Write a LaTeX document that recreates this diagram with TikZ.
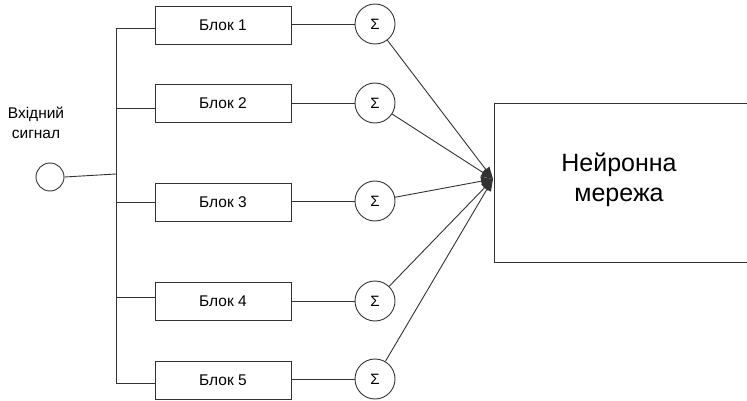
\documentclass[tikz,border=0pt]{standalone}
\usepackage{fontspec}
\setmainfont{Liberation Sans}
\usetikzlibrary{arrows.meta}
\begin{document}
\begin{tikzpicture}[x=1pt,y=-1pt,
  ln/.style={draw=black!80, line width=0.9pt},
  blk/.style={ln, rectangle, minimum width=136pt, minimum height=38pt, inner sep=0pt, font=\fontsize{15.5}{18}\selectfont},
  sig/.style={ln, circle, minimum size=40pt, inner sep=0pt, font=\fontsize{15}{16}\selectfont},
  arr/.style={ln, -{Triangle[length=12pt,width=9pt]}}]
\useasboundingbox (0,0) rectangle (747,401);
\begin{scope}
\clip (0,0) rectangle (747,401);
\node[ln, rectangle, minimum width=260pt, minimum height=159pt, anchor=north west, inner sep=0pt] (nn) at (494,103) {};
\end{scope}
\node[align=center, font=\fontsize{25}{30}\selectfont] (nnt) at (619,180) {Нейронна\\мережа};

\node[ln, circle, minimum size=28pt, inner sep=0pt] (in) at (50,177) {};
\node[align=center, font=\fontsize{15.5}{20}\selectfont] (inl) at (36,123) {Вхідний\\сигнал};

\coordinate (bt) at (116,28);
\coordinate (bb) at (116,383);
\coordinate (bj) at (116,174);
\draw[ln] (bt) -- (bb);
\draw[ln] (in.east) -- (bj);

\node[blk] (b1) at (223,25) {Блок 1};
\node[blk] (b2) at (223,103) {Блок 2};
\node[blk] (b3) at (223,202) {Блок 3};
\node[blk] (b4) at (223,301) {Блок 4};
\node[blk] (b5) at (223,380) {Блок 5};

\coordinate (j1) at (116,28);
\coordinate (j2) at (116,108);
\coordinate (j3) at (116,202);
\coordinate (j4) at (116,297);
\coordinate (j5) at (116,383);
\draw[ln] (j1) -- (j1 -| b1.west);
\draw[ln] (j2) -- (j2 -| b2.west);
\draw[ln] (j3) -- (j3 -| b3.west);
\draw[ln] (j4) -- (j4 -| b4.west);
\draw[ln] (j5) -- (j5 -| b5.west);

\node[sig] (s1) at (375,24) {Σ};
\node[sig] (s2) at (375,103) {Σ};
\node[sig] (s3) at (375,201) {Σ};
\node[sig] (s4) at (375,301) {Σ};
\node[sig] (s5) at (375,379) {Σ};

\draw[ln] (b1.east |- s1) -- (s1.west);
\draw[ln] (b2.east |- s2) -- (s2.west);
\draw[ln] (b3.east |- s3) -- (s3.west);
\draw[ln] (b4.east |- s4) -- (s4.west);
\draw[ln] (b5.east |- s5) -- (s5.west);

\coordinate (tip) at (493,179);
\draw[arr] (s1) -- (tip);
\draw[arr] (s2) -- (tip);
\draw[arr] (s3) -- (tip);
\draw[arr] (s4) -- (tip);
\draw[arr] (s5) -- (tip);
\end{tikzpicture}
\end{document}
